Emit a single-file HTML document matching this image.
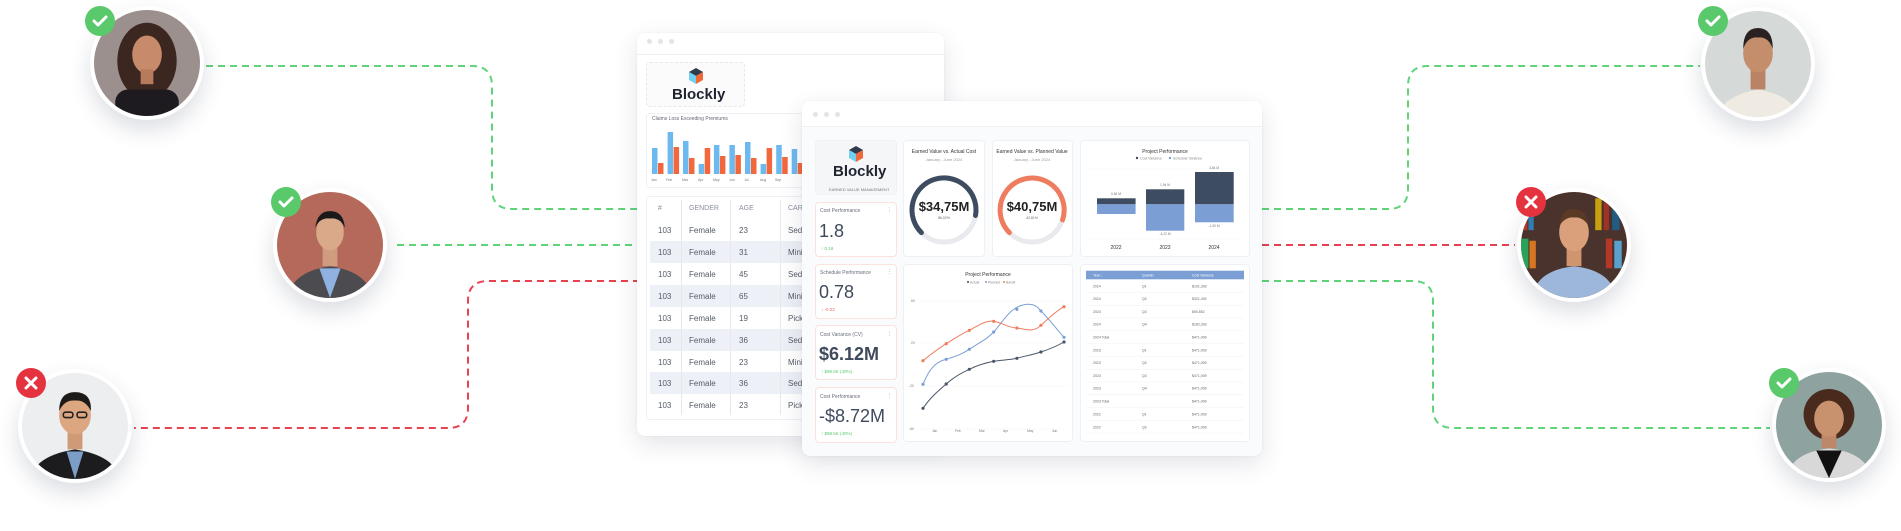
<!DOCTYPE html>
<html><head><meta charset="utf-8">
<style>
*{margin:0;padding:0;box-sizing:border-box}
body{width:1901px;height:531px;background:#fff;position:relative;overflow:hidden;font-family:"Liberation Sans",sans-serif;color:#3a4150}
.abs{position:absolute}
.win{position:absolute;background:#fff;border-radius:8px;box-shadow:0 8px 24px rgba(40,50,80,.13),0 0 2px rgba(0,0,0,.06)}
.card{position:absolute;background:#fff;border:1px solid #eef0f4;border-radius:4px}
.av{position:absolute;width:114px;height:114px;border-radius:50%;border:4px solid #fff;box-shadow:0 10px 22px rgba(40,50,80,.16);overflow:hidden;background:#fff}
.av svg{display:block;width:106px;height:106px}
.t{position:absolute;white-space:nowrap}
</style></head><body>

<!-- connector lines -->
<svg class="abs" style="left:0;top:0" width="1901" height="531">
<g fill="none" stroke-width="2" stroke-dasharray="7 5">
<path d="M206 66 H472 Q492 66 492 86 V189 Q492 209 512 209 H640" stroke="#5fd37a"/>
<path d="M397 245 H640" stroke="#5fd37a"/>
<path d="M640 281 H488 Q468 281 468 301 V408 Q468 428 448 428 H134" stroke="#e8414f"/>
<path d="M1262 209 H1388 Q1408 209 1408 189 V86 Q1408 66 1428 66 H1700" stroke="#5fd37a"/>
<path d="M1262 245 H1515" stroke="#e8414f"/>
<path d="M1262 281 H1413 Q1433 281 1433 301 V408 Q1433 428 1453 428 H1770" stroke="#5fd37a"/>
</g></svg>

<!-- back window -->
<div class="win" style="left:637px;top:33px;width:307px;height:403px">
  <div class="abs" style="left:0;top:21px;width:307px;height:1px;background:#eef0f3"></div>
  <div class="abs" style="left:10px;top:6px;width:5px;height:5px;border-radius:50%;background:#e2e4e8"></div>
  <div class="abs" style="left:21px;top:6px;width:5px;height:5px;border-radius:50%;background:#e2e4e8"></div>
  <div class="abs" style="left:32px;top:6px;width:5px;height:5px;border-radius:50%;background:#e2e4e8"></div>
</div>
<div class="card" style="left:646px;top:62px;width:99px;height:45px;border:1px dashed #e6e8ec;background:#fbfbfc"></div>
<svg class="abs" style="left:689px;top:68px" width="14" height="16" viewBox="0 0 14 16"><polygon points="7,0 14,4 7,8 0,4" fill="#2f3b4c"/><polygon points="0,4 7,8 7,16 0,12" fill="#6fd0f0"/><polygon points="14,4 7,8 7,16 14,12" fill="#f0683a"/></svg>
<div class="t" style="left:672px;top:86px;font-size:15px;font-weight:bold;color:#1f2430">Blockly</div>
<div class="card" style="left:646px;top:113px;width:170px;height:75px"></div>
<div class="t" style="left:652px;top:116px;font-size:5px;color:#667">Claims Loss Exceeding Premiums</div>
<svg class="abs" style="left:0;top:0" width="1901" height="531">
<g>
<rect x="652" y="148" width="5.5" height="26" fill="#6cb9ef"/><rect x="658" y="163" width="5.5" height="11" fill="#f2683c"/>
<rect x="667.6" y="132" width="5.5" height="42" fill="#6cb9ef"/><rect x="673.6" y="147" width="5.5" height="27" fill="#f2683c"/>
<rect x="683" y="141" width="5.5" height="33" fill="#6cb9ef"/><rect x="689" y="158" width="5.5" height="16" fill="#f2683c"/>
<rect x="698.7" y="164" width="5.5" height="10" fill="#6cb9ef"/><rect x="704.7" y="148" width="5.5" height="26" fill="#f2683c"/>
<rect x="713.9" y="145" width="5.5" height="29" fill="#6cb9ef"/><rect x="719.9" y="156" width="5.5" height="18" fill="#f2683c"/>
<rect x="729.4" y="145" width="5.5" height="29" fill="#6cb9ef"/><rect x="735.4" y="155" width="5.5" height="19" fill="#f2683c"/>
<rect x="745" y="142" width="5.5" height="32" fill="#6cb9ef"/><rect x="751" y="158" width="5.5" height="16" fill="#f2683c"/>
<rect x="760.6" y="164" width="5.5" height="10" fill="#6cb9ef"/><rect x="766.6" y="148" width="5.5" height="26" fill="#f2683c"/>
<rect x="776.2" y="145" width="5.5" height="29" fill="#6cb9ef"/><rect x="782.2" y="157" width="5.5" height="17" fill="#f2683c"/>
<rect x="791.7" y="149" width="5.5" height="25" fill="#6cb9ef"/><rect x="797.7" y="163" width="5.5" height="11" fill="#f2683c"/>
</g>
<g font-size="3.5" fill="#777" font-family="Liberation Sans">
<text x="651" y="181">Jan</text><text x="666" y="181">Feb</text><text x="682" y="181">Mar</text><text x="698" y="181">Apr</text><text x="713" y="181">May</text><text x="729" y="181">Jun</text><text x="744" y="181">Jul</text><text x="760" y="181">Aug</text><text x="775" y="181">Sep</text>
</g></svg>
<!-- back table -->
<div class="card" style="left:646px;top:196px;width:170px;height:224px"></div>
<div class="abs" style="left:650px;top:241px;width:160px;height:22px;background:#edf0f6"></div>
<div class="abs" style="left:650px;top:285px;width:160px;height:22px;background:#edf0f6"></div>
<div class="abs" style="left:650px;top:329px;width:160px;height:22px;background:#edf0f6"></div>
<div class="abs" style="left:650px;top:372px;width:160px;height:22px;background:#edf0f6"></div>
<div class="abs" style="left:681px;top:200px;width:1px;height:215px;background:#e6e8ee"></div>
<div class="abs" style="left:730px;top:200px;width:1px;height:215px;background:#e6e8ee"></div>
<div class="abs" style="left:780px;top:200px;width:1px;height:215px;background:#e6e8ee"></div>
<div style="font-size:7px;color:#8a909c">
<div class="t" style="left:658px;top:205px">#</div><div class="t" style="left:689px;top:205px">GENDER</div><div class="t" style="left:739px;top:205px">AGE</div><div class="t" style="left:788px;top:205px">CAR</div>
</div>
<div style="font-size:8px;color:#555b66">
<div class="t" style="left:658px;top:226px">103</div><div class="t" style="left:689px;top:226px">Female</div><div class="t" style="left:739px;top:226px">23</div><div class="t" style="left:788px;top:226px">Sedan</div>
<div class="t" style="left:658px;top:248px">103</div><div class="t" style="left:689px;top:248px">Female</div><div class="t" style="left:739px;top:248px">31</div><div class="t" style="left:788px;top:248px">Minivan</div>
<div class="t" style="left:658px;top:270px">103</div><div class="t" style="left:689px;top:270px">Female</div><div class="t" style="left:739px;top:270px">45</div><div class="t" style="left:788px;top:270px">Sedan</div>
<div class="t" style="left:658px;top:292px">103</div><div class="t" style="left:689px;top:292px">Female</div><div class="t" style="left:739px;top:292px">65</div><div class="t" style="left:788px;top:292px">Minivan</div>
<div class="t" style="left:658px;top:314px">103</div><div class="t" style="left:689px;top:314px">Female</div><div class="t" style="left:739px;top:314px">19</div><div class="t" style="left:788px;top:314px">Pickup</div>
<div class="t" style="left:658px;top:336px">103</div><div class="t" style="left:689px;top:336px">Female</div><div class="t" style="left:739px;top:336px">36</div><div class="t" style="left:788px;top:336px">Sedan</div>
<div class="t" style="left:658px;top:358px">103</div><div class="t" style="left:689px;top:358px">Female</div><div class="t" style="left:739px;top:358px">23</div><div class="t" style="left:788px;top:358px">Minivan</div>
<div class="t" style="left:658px;top:379px">103</div><div class="t" style="left:689px;top:379px">Female</div><div class="t" style="left:739px;top:379px">36</div><div class="t" style="left:788px;top:379px">Sedan</div>
<div class="t" style="left:658px;top:401px">103</div><div class="t" style="left:689px;top:401px">Female</div><div class="t" style="left:739px;top:401px">23</div><div class="t" style="left:788px;top:401px">Pickup</div>
</div>

<!-- front window -->
<div class="win" style="left:802px;top:101px;width:460px;height:355px;background:#fafbfc">
  <div class="abs" style="left:0;top:0;width:460px;height:26px;background:#fff;border-radius:8px 8px 0 0;border-bottom:1px solid #eef0f3"></div>
  <div class="abs" style="left:11px;top:11px;width:5px;height:5px;border-radius:50%;background:#e2e4e8"></div>
  <div class="abs" style="left:22px;top:11px;width:5px;height:5px;border-radius:50%;background:#e2e4e8"></div>
  <div class="abs" style="left:33px;top:11px;width:5px;height:5px;border-radius:50%;background:#e2e4e8"></div>
</div>
<div class="card" style="left:815px;top:140px;width:82px;height:55px;background:#f5f6f8;border-color:#f0f1f4"></div>
<svg class="abs" style="left:849px;top:146px" width="14" height="16" viewBox="0 0 14 16"><polygon points="7,0 14,4 7,8 0,4" fill="#2f3b4c"/><polygon points="0,4 7,8 7,16 0,12" fill="#6fd0f0"/><polygon points="14,4 7,8 7,16 14,12" fill="#f0683a"/></svg>
<div class="t" style="left:833px;top:163px;font-size:15px;font-weight:bold;color:#1f2430">Blockly</div>
<div class="t" style="left:829px;top:187px;font-size:4px;color:#777">EARNED VALUE MANAGEMENT</div>

<div class="card" style="left:815px;top:202px;width:82px;height:55px;border-color:#fbe2dc"></div>
<div class="card" style="left:815px;top:264px;width:82px;height:55px;border-color:#fbe2dc"></div>
<div class="card" style="left:815px;top:325px;width:82px;height:55px;border-color:#fbe2dc"></div>
<div class="card" style="left:815px;top:387px;width:82px;height:56px;border-color:#fbe2dc"></div>
<div style="font-size:5px;color:#666c78">
<div class="t" style="left:820px;top:208px">Cost Performance</div>
<div class="t" style="left:820px;top:270px">Schedule Performance</div>
<div class="t" style="left:820px;top:332px">Cost Variance (CV)</div>
<div class="t" style="left:820px;top:394px">Cost Performance</div>
<div class="t" style="left:887px;top:207px">⋮</div><div class="t" style="left:887px;top:269px">⋮</div><div class="t" style="left:887px;top:331px">⋮</div><div class="t" style="left:887px;top:393px">⋮</div>
</div>
<div style="font-size:18px;color:#3f4a5c">
<div class="t" style="left:819px;top:221px">1.8</div>
<div class="t" style="left:819px;top:282px">0.78</div>
<div class="t" style="left:819px;top:344px;font-weight:bold">$6.12M</div>
<div class="t" style="left:819px;top:406px">-$8.72M</div>
</div>
<div style="font-size:4.5px">
<div class="t" style="left:821px;top:246px;color:#5cc870">↑ 0.18</div>
<div class="t" style="left:821px;top:307px;color:#ee6a5a">↓ -0.22</div>
<div class="t" style="left:821px;top:369px;color:#5cc870">↑ $98.5K (40%)</div>
<div class="t" style="left:821px;top:431px;color:#5cc870">↑ $98.5K (40%)</div>
</div>

<div class="card" style="left:903px;top:140px;width:82px;height:117px"></div>
<div class="card" style="left:992px;top:140px;width:81px;height:117px"></div>
<div class="card" style="left:1080px;top:140px;width:170px;height:117px"></div>
<div class="card" style="left:903px;top:264px;width:170px;height:178px"></div>
<div class="card" style="left:1080px;top:264px;width:170px;height:178px"></div>

<svg class="abs" style="left:0;top:0" width="1901" height="531" font-family="Liberation Sans">
<!-- donuts -->
<text x="944" y="153" font-size="5" text-anchor="middle" fill="#333">Earned Value vs. Actual Cost</text>
<text x="944" y="161" font-size="4" text-anchor="middle" fill="#999">January - June 2024</text>
<circle cx="944" cy="210" r="32" fill="none" stroke="#e9eaee" stroke-width="5"/>
<path d="M 921.4 232.6 A 32 32 0 1 1 975.5 215.5" fill="none" stroke="#3d4c60" stroke-width="5" stroke-linecap="round"/>
<text x="944" y="211" font-size="13" text-anchor="middle" fill="#222" font-weight="bold">$34,75M</text>
<text x="944" y="219" font-size="3.5" text-anchor="middle" fill="#666">86,02%</text>
<text x="1032" y="153" font-size="5" text-anchor="middle" fill="#333">Earned Value vs. Planned Value</text>
<text x="1032" y="161" font-size="4" text-anchor="middle" fill="#999">January - June 2024</text>
<circle cx="1032" cy="210" r="32" fill="none" stroke="#e9eaee" stroke-width="5"/>
<path d="M 1009.4 232.6 A 32 32 0 1 1 1062.6 219.9" fill="none" stroke="#ef7c5e" stroke-width="5" stroke-linecap="round"/>
<text x="1032" y="211" font-size="13" text-anchor="middle" fill="#222" font-weight="bold">$40,75M</text>
<text x="1032" y="219" font-size="3.5" text-anchor="middle" fill="#666">42,81%</text>
<!-- stacked bars -->
<text x="1165" y="153" font-size="5" text-anchor="middle" fill="#333">Project Performance</text>
<circle cx="1137" cy="158" r="1.2" fill="#3d4c60"/><text x="1140" y="159.5" font-size="3.5" fill="#888">Cost Variance</text>
<circle cx="1170" cy="158" r="1.2" fill="#7b9fd4"/><text x="1173" y="159.5" font-size="3.5" fill="#888">Schedule Variance</text>
<line x1="1088" y1="169" x2="1242" y2="169" stroke="#f0f1f4" stroke-width=".6"/>
<line x1="1088" y1="239" x2="1242" y2="239" stroke="#f0f1f4" stroke-width=".6"/>
<rect x="1097" y="198.3" width="38.6" height="6" fill="#3d4c60"/><rect x="1097" y="204.3" width="38.6" height="9.7" fill="#7b9fd4"/>
<rect x="1146" y="189.3" width="38.3" height="15" fill="#3d4c60"/><rect x="1146" y="204.3" width="38.3" height="26.4" fill="#7b9fd4"/>
<rect x="1195" y="172" width="38.7" height="32.3" fill="#3d4c60"/><rect x="1195" y="204.3" width="38.7" height="18" fill="#7b9fd4"/>
<g font-size="3.3" fill="#777" text-anchor="middle">
<text x="1116" y="195">0,84 M</text><text x="1165" y="186">1,94 M</text><text x="1214" y="169">3,84 M</text>
<text x="1165" y="235">-4,22 M</text><text x="1214" y="227">-1,90 M</text></g>
<g font-size="5" fill="#333" text-anchor="middle"><text x="1116" y="249">2022</text><text x="1165" y="249">2023</text><text x="1214" y="249">2024</text></g>
<!-- line chart -->
<text x="988" y="276" font-size="5" text-anchor="middle" fill="#333">Project Performance</text>
<g font-size="3.3" fill="#888"><circle cx="968" cy="282" r="1" fill="#3d4c60"/><text x="970" y="283.3">Actual</text>
<circle cx="986" cy="282" r="1" fill="#7b9fd4"/><text x="988" y="283.3">Planned</text>
<circle cx="1004" cy="282" r="1" fill="#ef7c5e"/><text x="1006" y="283.3">Bandir</text></g>
<g stroke="#f1f2f5" stroke-width=".6"><line x1="920" y1="301" x2="1068" y2="301"/><line x1="920" y1="343" x2="1068" y2="343"/><line x1="920" y1="386" x2="1068" y2="386"/><line x1="920" y1="429" x2="1068" y2="429"/></g>
<g font-size="3.3" fill="#777"><text x="911" y="302">60</text><text x="911" y="344">20</text><text x="909" y="387">-20</text><text x="909" y="430">-60</text>
<text x="932" y="432">Jan</text><text x="955" y="432">Feb</text><text x="979" y="432">Mar</text><text x="1003" y="432">Apr</text><text x="1027" y="432">May</text><text x="1052" y="432">Jun</text></g>
<path d="M923 408.3 C930 398 938 391 946.2 384 C954 377 961 373 969.3 369.3 C978 365 985 363 993.7 361.3 C1002 360 1009 360 1016.9 358.3 C1025 356 1032 355 1040.9 352 C1050 349 1057 346 1064 342" fill="none" stroke="#4a5568" stroke-width="1"/>
<path d="M923 384.3 C928 372 934 362 946.2 359.3 C957 356 962 354 969.3 349.3 C980 342 986 340 993.7 332 C1004 321 1010 306 1027 304.3 C1036 304 1038 308 1040.9 311 C1048 318 1055 327 1064 337.3" fill="none" stroke="#7b9fd4" stroke-width="1"/>
<path d="M923 360.7 C931 354 938 349 946.2 343.7 C954 339 961 334 969.3 330.3 C978 326 985 320 993.7 321.3 C1003 323 1009 328 1016.9 328 C1026 329 1033 333 1040.9 325.3 C1049 318 1056 311 1064 306.7" fill="none" stroke="#ef7c5e" stroke-width="1"/>
<g fill="#4a5568"><circle cx="923" cy="408.3" r="1.6"/><circle cx="946.2" cy="384" r="1.6"/><circle cx="969.3" cy="369.3" r="1.6"/><circle cx="993.7" cy="361.3" r="1.6"/><circle cx="1016.9" cy="358.3" r="1.6"/><circle cx="1040.9" cy="352" r="1.6"/><circle cx="1064" cy="342" r="1.6"/></g>
<g fill="#7b9fd4"><circle cx="923" cy="384.3" r="1.6"/><circle cx="946.2" cy="359.3" r="1.6"/><circle cx="969.3" cy="349.3" r="1.6"/><circle cx="993.7" cy="332" r="1.6"/><circle cx="1016.9" cy="309.3" r="1.6"/><circle cx="1040.9" cy="311" r="1.6"/><circle cx="1064" cy="337.3" r="1.6"/></g>
<g fill="#ef7c5e"><circle cx="923" cy="360.7" r="1.6"/><circle cx="946.2" cy="343.7" r="1.6"/><circle cx="969.3" cy="330.3" r="1.6"/><circle cx="993.7" cy="321.3" r="1.6"/><circle cx="1016.9" cy="328" r="1.6"/><circle cx="1040.9" cy="325.3" r="1.6"/><circle cx="1064" cy="306.7" r="1.6"/></g>
<!-- table -->
<rect x="1086" y="270.7" width="158" height="8.6" fill="#7b9fd4"/>
<g font-size="3.5" fill="#fff"><text x="1093" y="276.3">Year ↓</text><text x="1142" y="276.3">Quarter</text><text x="1192" y="276.3">Cost Variance</text></g>
<g stroke="#eef0f3" stroke-width=".5">
<line x1="1086" y1="292.4" x2="1244" y2="292.4"/><line x1="1086" y1="305.2" x2="1244" y2="305.2"/><line x1="1086" y1="318" x2="1244" y2="318"/><line x1="1086" y1="330.7" x2="1244" y2="330.7"/><line x1="1086" y1="343.5" x2="1244" y2="343.5"/><line x1="1086" y1="356.3" x2="1244" y2="356.3"/><line x1="1086" y1="369.2" x2="1244" y2="369.2"/><line x1="1086" y1="382" x2="1244" y2="382"/><line x1="1086" y1="394.8" x2="1244" y2="394.8"/><line x1="1086" y1="407.6" x2="1244" y2="407.6"/><line x1="1086" y1="420.5" x2="1244" y2="420.5"/><line x1="1086" y1="433" x2="1244" y2="433"/></g>
<g font-size="3.5" fill="#666">
<text x="1093" y="287.3">2024</text><text x="1142" y="287.3">Q1</text><text x="1192" y="287.3">$191,393</text>
<text x="1093" y="300">2024</text><text x="1142" y="300">Q2</text><text x="1192" y="300">$321,402</text>
<text x="1093" y="313">2024</text><text x="1142" y="313">Q3</text><text x="1192" y="313">$90,852</text>
<text x="1093" y="325.6">2024</text><text x="1142" y="325.6">Q4</text><text x="1192" y="325.6">$182,393</text>
<text x="1093" y="338.3">2024 Total</text><text x="1192" y="338.3">$471,009</text>
<text x="1093" y="351.3">2023</text><text x="1142" y="351.3">Q1</text><text x="1192" y="351.3">$471,009</text>
<text x="1093" y="364">2023</text><text x="1142" y="364">Q2</text><text x="1192" y="364">$471,009</text>
<text x="1093" y="377">2023</text><text x="1142" y="377">Q3</text><text x="1192" y="377">$471,009</text>
<text x="1093" y="389.6">2023</text><text x="1142" y="389.6">Q4</text><text x="1192" y="389.6">$471,009</text>
<text x="1093" y="402.6">2023 Total</text><text x="1192" y="402.6">$471,009</text>
<text x="1093" y="415.3">2022</text><text x="1142" y="415.3">Q1</text><text x="1192" y="415.3">$471,009</text>
<text x="1093" y="428.3">2022</text><text x="1142" y="428.3">Q2</text><text x="1192" y="428.3">$471,009</text>
</g>
</svg>

<!-- avatars -->
<div class="av" style="left:90px;top:6px"><svg viewBox="0 0 100 100"><rect width="100" height="100" fill="#9b908d"/><ellipse cx="50" cy="48" rx="28" ry="36" fill="#3b2620"/><rect x="20" y="75" width="60" height="30" rx="12" fill="#1d1b1f"/><ellipse cx="50" cy="42" rx="14" ry="18" fill="#c78a6b"/><rect x="44" y="56" width="12" height="14" fill="#b67a5c"/></svg></div>
<div class="av" style="left:273px;top:188px"><svg viewBox="0 0 100 100"><rect width="100" height="100" fill="#b5695b"/><path d="M10 100 Q14 75 50 70 Q86 75 90 100Z" fill="#4b4b50"/><path d="M40 72 L50 100 L60 72Z" fill="#8fb2e0"/><rect x="43" y="50" width="14" height="20" fill="#cf9c7f"/><ellipse cx="50" cy="38" rx="13" ry="17" fill="#d9a98a"/><path d="M36 34 Q38 18 50 18 Q63 18 64 34 Q60 24 50 25 Q40 24 36 34Z" fill="#1a1a1a"/></svg></div>
<div class="av" style="left:18px;top:369px"><svg viewBox="0 0 100 100"><rect width="100" height="100" fill="#eceef0"/><path d="M8 100 Q12 78 50 72 Q88 78 92 100Z" fill="#1c1c1e"/><path d="M42 74 L50 100 L58 74Z" fill="#7b9dc6"/><rect x="43" y="52" width="14" height="20" fill="#cf9a76"/><ellipse cx="50" cy="40" rx="15" ry="18" fill="#dca680"/><path d="M35 36 Q35 18 50 18 Q66 18 65 36 Q60 25 50 26 Q40 25 35 36Z" fill="#1e1a18"/><rect x="39" y="37" width="9" height="5" rx="2" fill="none" stroke="#222" stroke-width="1.5"/><rect x="52" y="37" width="9" height="5" rx="2" fill="none" stroke="#222" stroke-width="1.5"/></svg></div>
<div class="av" style="left:1701px;top:7px"><svg viewBox="0 0 100 100"><rect width="100" height="100" fill="#d5d9d8"/><path d="M12 100 Q16 80 50 74 Q84 80 88 100Z" fill="#efebe3"/><rect x="43" y="54" width="14" height="20" fill="#b98466"/><ellipse cx="50" cy="40" rx="14" ry="18" fill="#c48e6c"/><path d="M36 36 Q36 16 50 16 Q64 16 64 36 Q60 24 50 25 Q40 24 36 36Z" fill="#2a2220"/></svg></div>
<div class="av" style="left:1517px;top:188px"><svg viewBox="0 0 100 100"><rect width="100" height="100" fill="#4a332c"/><g opacity=".9"><rect x="0" y="8" width="6" height="28" fill="#c0392b"/><rect x="7" y="10" width="5" height="26" fill="#2e86c1"/><rect x="70" y="6" width="6" height="30" fill="#d4ac0d"/><rect x="78" y="10" width="5" height="26" fill="#a93226"/><rect x="86" y="8" width="7" height="28" fill="#1f618d"/><rect x="0" y="44" width="7" height="28" fill="#27ae60"/><rect x="8" y="46" width="6" height="26" fill="#e67e22"/><rect x="80" y="44" width="6" height="28" fill="#c0392b"/><rect x="88" y="46" width="7" height="26" fill="#5dade2"/></g><path d="M10 100 Q14 74 50 70 Q86 74 90 100Z" fill="#9cb7d9"/><rect x="43" y="52" width="14" height="18" fill="#cf956f"/><ellipse cx="50" cy="38" rx="14" ry="18" fill="#daa07c"/><path d="M36 32 Q38 16 50 16 Q62 16 64 32 Q58 23 50 24 Q42 23 36 32Z" fill="#5a3a24"/></svg></div>
<div class="av" style="left:1772px;top:368px"><svg viewBox="0 0 100 100"><rect width="100" height="100" fill="#8ea29f"/><ellipse cx="50" cy="40" rx="24" ry="24" fill="#4a2a1c"/><path d="M10 100 Q14 76 50 72 Q86 76 90 100Z" fill="#d8d8d8"/><path d="M38 74 L50 100 L62 74Z" fill="#111"/><rect x="43" y="54" width="14" height="18" fill="#bd8769"/><ellipse cx="50" cy="44" rx="14" ry="17" fill="#c8926f"/></svg></div>

<!-- badges -->
<svg class="abs" style="left:0;top:0" width="1901" height="531">
<g fill="#5ac96b"><circle cx="100" cy="21" r="15"/><circle cx="286" cy="202" r="15"/><circle cx="1713" cy="21" r="15"/><circle cx="1784" cy="383" r="15"/></g>
<g fill="#e5323f"><circle cx="31" cy="383" r="15"/><circle cx="1531" cy="202" r="15"/></g>
<g fill="none" stroke="#fff" stroke-width="3" stroke-linecap="round" stroke-linejoin="round">
<path d="M94 21 l4 4 l8 -8"/><path d="M280 202 l4 4 l8 -8"/><path d="M1707 21 l4 4 l8 -8"/><path d="M1778 383 l4 4 l8 -8"/>
<path d="M26 378 l10 10 M36 378 l-10 10"/><path d="M1526 197 l10 10 M1536 197 l-10 10"/>
</g></svg>
</body></html>
